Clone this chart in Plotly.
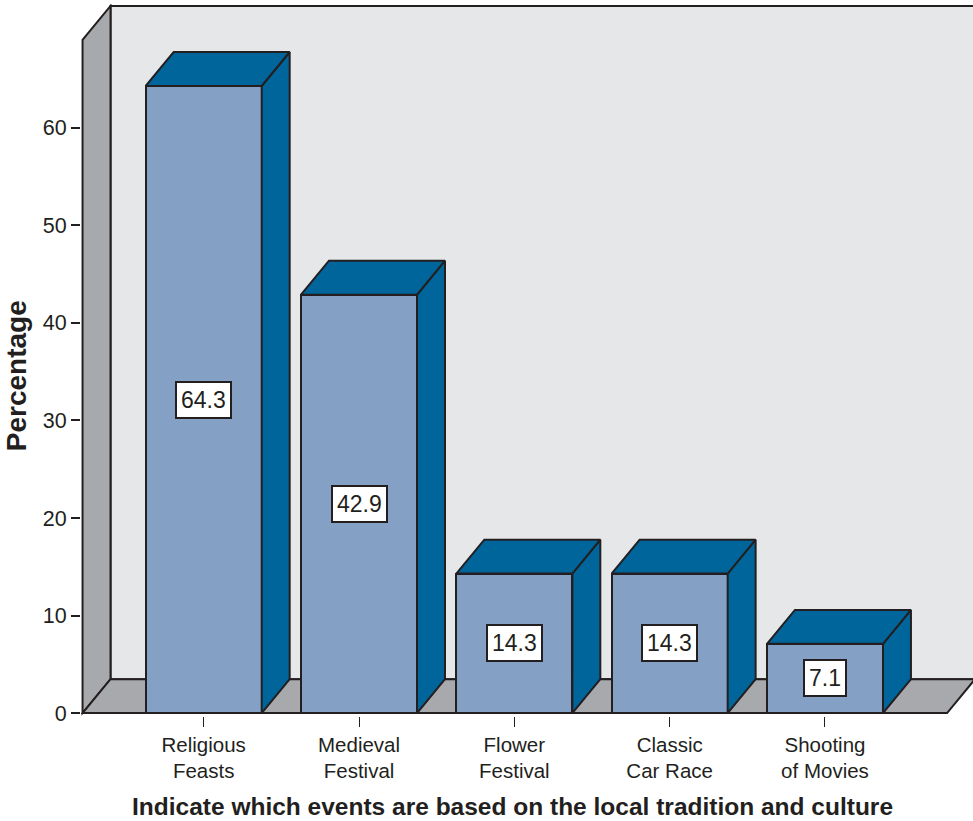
import plotly.graph_objects as go

# Survey results
categories = ["Religious<br>Feasts", "Medieval<br>Festival", "Flower<br>Festival",
              "Classic<br>Car Race", "Shooting<br>of Movies"]
values = [64.3, 42.9, 14.3, 14.3, 7.1]
y_ticks = [0, 10, 20, 30, 40, 50, 60]
x_title = "Indicate which events are based on the local tradition and culture"
y_title = "Percentage"

# Styling / pseudo-3D geometry (in axis units)
FRONT = "#84a0c5"
DARK = "#00659b"
WALL = "#e6e7e9"
SIDE_WALL = "#a8a9ad"
EDGE = "#231f20"
BAR_W = 0.747
DX = 0.18          # depth offset along the category axis
DY = 3.48          # depth offset along the value axis
X_LEFT = -0.78     # front edge of left wall / floor
X_RIGHT = 4.786    # front-right corner of the floor
Y_TOP = 72.5       # top of the back wall
FONT = "Liberation Sans, Arial, sans-serif"

xs = list(range(len(categories)))

fig = go.Figure()

# Front faces of the bars
fig.add_trace(go.Bar(
    x=xs, y=values, width=BAR_W,
    marker=dict(color=FRONT, line=dict(color=EDGE, width=2)),
    hoverinfo="skip", showlegend=False,
))

# Side and top faces, derived from each bar's value
for x, v in zip(xs, values):
    xl, xr = x - BAR_W / 2, x + BAR_W / 2
    side_x = [xr, xr + DX, xr + DX, xr, xr]
    side_y = [0, DY, v + DY, v, 0]
    top_x = [xl, xl + DX, xr + DX, xr, xl]
    top_y = [v, v + DY, v + DY, v, v]
    for px, py in ((side_x, side_y), (top_x, top_y)):
        fig.add_trace(go.Scatter(
            x=px, y=py, mode="lines", fill="toself", fillcolor=DARK,
            line=dict(color=EDGE, width=2), hoverinfo="skip", showlegend=False,
        ))

# Value labels in white boxes, centred on each bar
for x, v in zip(xs, values):
    fig.add_annotation(
        x=x, y=v / 2, text=f"{v:.1f}", showarrow=False,
        font=dict(family=FONT, size=23, color=EDGE),
        bgcolor="white", bordercolor=EDGE, borderwidth=2, borderpad=4,
    )

# Axis titles
fig.add_annotation(
    xref="paper", yref="paper", x=0.484, y=-0.127, xanchor="center", yanchor="middle",
    text=f"<b>{x_title}</b>", showarrow=False,
    font=dict(family=FONT, size=24.5, color=EDGE),
)
fig.add_annotation(
    xref="paper", yref="paper", x=-0.0722, y=0.478, xanchor="center", yanchor="middle",
    text=f"<b>{y_title}</b>", showarrow=False, textangle=-90,
    font=dict(family=FONT, size=28, color=EDGE),
)


def poly(points):
    return "M " + " L ".join(f"{a},{b}" for a, b in points) + " Z"


bx = X_LEFT + DX
shapes = [
    # back wall
    dict(type="path", path=poly([(bx, DY), (bx, Y_TOP), (6.0, Y_TOP), (6.0, DY)]),
         fillcolor=WALL, line=dict(color=EDGE, width=2)),
    # left wall
    dict(type="path", path=poly([(X_LEFT, 0), (X_LEFT, Y_TOP - DY), (bx, Y_TOP), (bx, DY)]),
         fillcolor=SIDE_WALL, line=dict(color=EDGE, width=2)),
    # floor
    dict(type="path", path=poly([(X_LEFT, 0), (bx, DY), (X_RIGHT + DX, DY), (X_RIGHT, 0)]),
         fillcolor=SIDE_WALL, line=dict(color=EDGE, width=2)),
]
for s in shapes:
    s.update(xref="x", yref="y", layer="below")

fig.update_layout(
    width=973, height=821,
    margin=dict(l=81.4, r=0, t=4, b=105),
    paper_bgcolor="white", plot_bgcolor="white",
    shapes=shapes,
    bargap=0,
    font=dict(family=FONT, color=EDGE),
    xaxis=dict(
        range=[-0.79, 4.953], tickmode="array", tickvals=xs, ticktext=categories,
        ticks="outside", ticklen=10, tickwidth=1, tickcolor=EDGE,
        showgrid=False, zeroline=False, showline=False,
        tickfont=dict(family=FONT, size=20.5, color=EDGE),
    ),
    yaxis=dict(
        range=[-0.3, 72.7], tickmode="array", tickvals=y_ticks,
        ticks="outside", ticklen=9, tickwidth=1.5, tickcolor=EDGE,
        showgrid=False, zeroline=False, showline=False,
        tickfont=dict(family=FONT, size=21.5, color=EDGE),
    ),
)

fig.write_html("out.html")
